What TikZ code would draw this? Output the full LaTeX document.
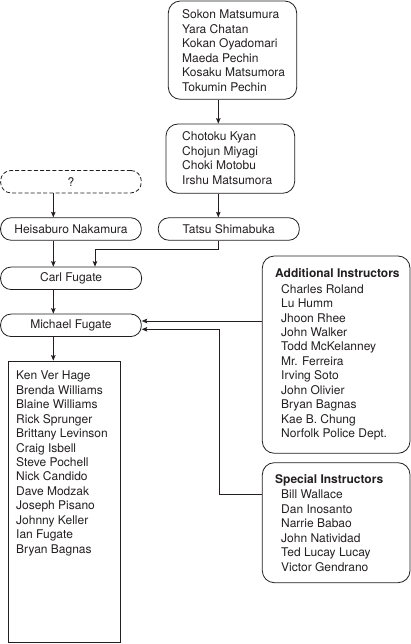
\documentclass[tikz,border=0pt]{standalone}
\usepackage{fontspec}
\setmainfont{TeX Gyre Heros}
\usetikzlibrary{arrows.meta,calc}
\definecolor{ink}{RGB}{35,31,32}
\begin{document}
\begin{tikzpicture}[x=1pt,y=-1pt,
  font=\fontsize{12}{14.45}\selectfont, text=ink,
  rbox/.style={draw=ink, line width=0.8pt, rounded corners=12pt, inner sep=0pt},
  pill/.style={draw=ink, line width=0.8pt, rounded corners=10.5pt, inner sep=0pt, minimum height=22.5pt},
  sqbox/.style={draw=ink, line width=0.8pt, inner sep=0pt},
  lst/.style={align=left, inner sep=0pt, anchor=north west, execute at begin node=\strut},
  arr/.style={draw=ink, line width=0.8pt, -{Stealth[length=5.5pt,width=4.5pt,inset=1pt]}},
  conn/.style={draw=ink, line width=0.8pt}]
\useasboundingbox (0,0) rectangle (411,644);
% axes for connectors
\coordinate (axA) at (218.3,0);
\coordinate (axB) at (53.3,0);
\coordinate (axC) at (95,0);
\coordinate (axD) at (219,0);
\coordinate (yA) at (0,321);
\coordinate (yB) at (0,329.3);
\coordinate (yC) at (0,494.3);
% top box
\node[rbox, minimum width=128.4pt, minimum height=98.3pt] (masters) at (232.5,50.15) {};
\node[lst] (masterstext) at (182,9.8) {Sokon Matsumura\\Yara Chatan\\Kokan Oyadomari\\Maeda Pechin\\Kosaku Matsumora\\Tokumin Pechin};
% second box
\node[rbox, minimum width=128.7pt, minimum height=69.3pt] (okinawa) at (230.35,158.65) {};
\node[lst] (okinawatext) at (182,131.8) {Chotoku Kyan\\Chojun Miyagi\\Choki Motobu\\Irshu Matsumora};
% pills
\node[pill, dashed, dash pattern=on 4pt off 2.2pt, minimum width=140.7pt] (unknown) at (70.95,181.7) {?};
\node[pill, minimum width=140.7pt] (heisaburo) at (70.95,229) {Heisaburo Nakamura};
\node[pill, minimum width=141pt] (tatsu) at (228.8,229) {Tatsu Shimabuka};
\node[pill, minimum width=141pt] (carl) at (71.1,278.3) {Carl Fugate};
\node[pill, minimum width=140.7pt] (michael) at (70.95,325.3) {Michael Fugate};
% students
\node[sqbox, minimum width=112.7pt, minimum height=281.7pt] (students) at (64.35,501.85) {};
\node[lst] (studentstext) at (16,370.8) {Ken Ver Hage\\Brenda Williams\\Blaine Williams\\Rick Sprunger\\Brittany Levinson\\Craig Isbell\\Steve Pochell\\Nick Candido\\Dave Modzak\\Joseph Pisano\\Johnny Keller\\Ian Fugate\\Bryan Bagnas};
% additional instructors
\node[rbox, minimum width=147.7pt, minimum height=197.3pt] (additional) at (336.15,354.65) {};
\node[lst] (additionaltext) at (275,268) {\textbf{Additional Instructors}\\[1.6pt]
\hspace*{6pt}Charles Roland\\\hspace*{6pt}Lu Humm\\\hspace*{6pt}Jhoon Rhee\\\hspace*{6pt}John Walker\\\hspace*{6pt}Todd McKelanney\\\hspace*{6pt}Mr. Ferreira\\\hspace*{6pt}Irving Soto\\\hspace*{6pt}John Olivier\\\hspace*{6pt}Bryan Bagnas\\\hspace*{6pt}Kae B. Chung\\\hspace*{6pt}Norfolk Police Dept.};
% special instructors
\node[rbox, minimum width=147.7pt, minimum height=120pt] (special) at (336.15,522.7) {};
\node[lst] (specialtext) at (275,473.9) {\textbf{Special Instructors}\\[1.4pt]
\hspace*{6pt}Bill Wallace\\\hspace*{6pt}Dan Inosanto\\\hspace*{6pt}Narrie Babao\\\hspace*{6pt}John Natividad\\\hspace*{6pt}Ted Lucay Lucay\\\hspace*{6pt}Victor Gendrano};
% connectors
\draw[arr] (masters.south -| axA) -- (okinawa.north -| axA);
\draw[arr] (okinawa.south -| axA) -- (tatsu.north -| axA);
\draw[arr] (unknown.south -| axB) -- (heisaburo.north -| axB);
\draw[arr] (heisaburo.south -| axB) -- (carl.north -| axB);
\draw[arr] (tatsu.south -| axA) -- ++(0,8.3) -| (carl.north -| axC);
\draw[arr] (carl.south -| axB) -- (michael.north -| axB);
\draw[arr] (michael.south -| axB) -- (students.north -| axB);
\draw[arr] (additional.west |- yA) -- (michael.east |- yA);
\draw[arr] (special.west |- yC) -- (axD |- yC) -- (axD |- yB) -- (michael.east |- yB);
\end{tikzpicture}
\end{document}
